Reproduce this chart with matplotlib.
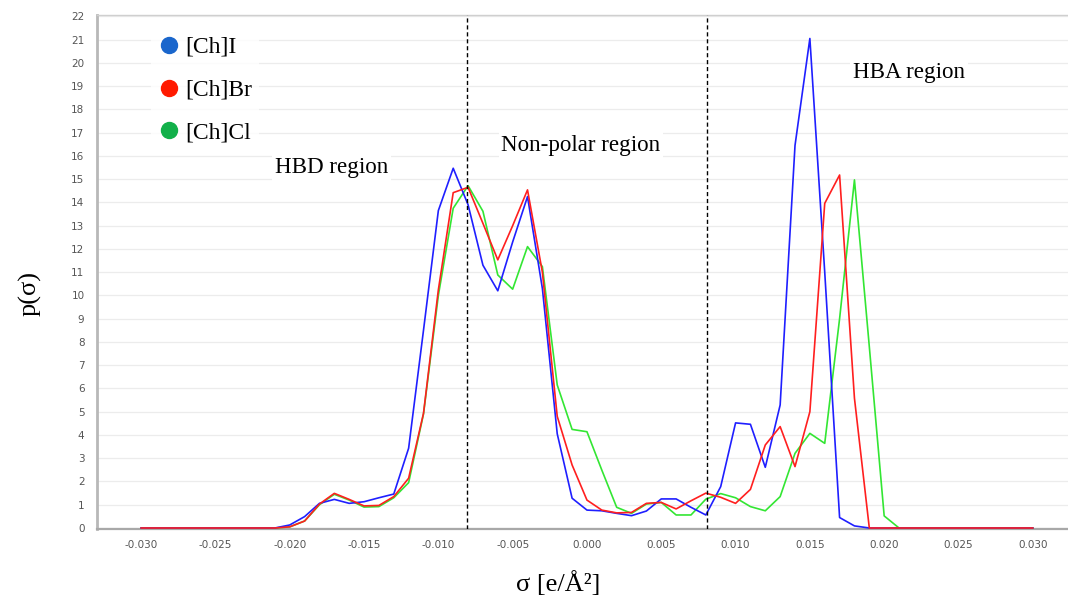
import numpy as np
import matplotlib
matplotlib.use("Agg")
import matplotlib.pyplot as plt
from matplotlib.lines import Line2D

plt.rcParams['axes.unicode_minus'] = False

# ---------------- data ----------------
sigma = np.round(np.arange(-30, 31) * 0.001, 3)

p_ChI = [0, 0, 0, 0, 0, 0, 0, 0, 0, 0,
         0.13, 0.49, 1.06, 1.23, 1.06, 1.13, 1.30, 1.46, 3.43, 8.5,
         13.65, 15.47, 13.9, 11.3, 10.2, 12.3, 14.25, 10.3, 4.05, 1.28,
         0.77, 0.74, 0.63, 0.53, 0.73, 1.25, 1.25, 0.89, 0.56, 1.78,
         4.52, 4.46, 2.61, 5.29, 16.45, 21.05, 11.0, 0.45, 0.09,
         0, 0, 0, 0, 0, 0, 0, 0, 0, 0, 0, 0]

p_ChBr = [0, 0, 0, 0, 0, 0, 0, 0, 0, 0,
          0.05, 0.30, 1.03, 1.49, 1.23, 0.95, 0.97, 1.35, 2.14, 4.93,
          10.24, 14.42, 14.65, 13.1, 11.53, 13.0, 14.54, 11.0, 4.8, 2.71,
          1.20, 0.77, 0.65, 0.67, 1.06, 1.10, 0.82, 1.17, 1.50, 1.32,
          1.06, 1.66, 3.57, 4.36, 2.64, 5.0, 13.96, 15.18, 5.58,
          0, 0, 0, 0, 0, 0, 0, 0, 0, 0, 0, 0]

p_ChCl = [0, 0, 0, 0, 0, 0, 0, 0, 0, 0,
          0.05, 0.30, 1.00, 1.45, 1.20, 0.90, 0.92, 1.30, 1.95, 4.9,
          10.0, 13.75, 14.72, 13.62, 10.88, 10.27, 12.1, 11.24, 6.15, 4.24,
          4.14, 2.49, 0.89, 0.63, 1.03, 1.10, 0.56, 0.56, 1.24, 1.48,
          1.30, 0.92, 0.74, 1.35, 3.21, 4.07, 3.64, 9.0, 14.97, 7.8,
          0.52, 0, 0, 0, 0, 0, 0, 0, 0, 0, 0]

series_labels = ["[Ch]I", "[Ch]Br", "[Ch]Cl"]
line_colors = {"[Ch]I": "#1f1fff", "[Ch]Br": "#ff1f1f", "[Ch]Cl": "#33e633"}
legend_colors = ["#1a66cc", "#ff1a00", "#12b04a"]

region_bounds = [-0.0081, 0.0081]
region_labels = ["HBD region", "Non-polar region", "HBA region"]

xticks = np.round(np.arange(-6, 7) * 0.005, 3)
yticks = np.arange(0, 23)

# ---------------- figure ----------------
W, H = 1068, 601
fig = plt.figure(figsize=(W / 100, H / 100), dpi=100)
ax = fig.add_axes([97 / W, (H - 529) / H, (W - 97) / W, (529 - 15) / H])

ax.set_xlim(-0.03297, 0.03237)
ax.set_ylim(-0.043, 22.06)

ax.yaxis.grid(True, color="#ececec", lw=0.9)
ax.set_axisbelow(True)

ax.plot(sigma, p_ChCl, color=line_colors["[Ch]Cl"], lw=1.2, zorder=3)
ax.plot(sigma, p_ChI, color=line_colors["[Ch]I"], lw=1.2, zorder=4)
ax.plot(sigma, p_ChBr, color=line_colors["[Ch]Br"], lw=1.2, zorder=5)

for b in region_bounds:
    ax.axvline(b, color="black", lw=1.0, ls=(0, (3, 2)), zorder=6)

ax.set_xticks(xticks)
ax.set_xticklabels([f"{v:.3f}" for v in xticks])
ax.set_yticks(yticks)
ax.tick_params(axis="both", length=0, labelsize=7.5, labelcolor="#555555")
ax.tick_params(axis="x", pad=8)
ax.tick_params(axis="y", pad=9)

ax.spines["right"].set_visible(False)
ax.spines["top"].set_color("#cfcfcf")
ax.spines["top"].set_linewidth(1.0)
ax.spines["left"].set_color("#b8b8b8")
ax.spines["left"].set_linewidth(2.0)
ax.spines["bottom"].set_color("#a8a8a8")
ax.spines["bottom"].set_linewidth(1.6)

serif = "Liberation Serif"
tbox = dict(facecolor="white", edgecolor="none", pad=2)
ax.text(-0.0172, 15.5, region_labels[0], family=serif, fontsize=16.6, ha="center", va="center", bbox=tbox)
ax.text(-0.0004, 16.45, region_labels[1], family=serif, fontsize=16.6, ha="center", va="center", bbox=tbox)
ax.text(0.02167, 19.6, region_labels[2], family=serif, fontsize=16.6, ha="center", va="center", bbox=tbox)

handles = [Line2D([], [], ls="", marker="o", ms=11.5, color=c, markeredgecolor=c)
           for c in legend_colors]
leg = ax.legend(handles, series_labels, loc="upper left", bbox_to_anchor=(0.043, 0.995),
                frameon=True, prop={"family": serif, "size": 17},
                handlelength=1.0, handletextpad=0.18, labelspacing=0.9, borderpad=0.3)
leg.get_frame().set_facecolor("white")
leg.get_frame().set_edgecolor("none")

fig.text(30 / W, 1 - 293 / H, "p(σ)", family=serif, fontsize=19, rotation=90, ha="center", va="center")
fig.text(558 / W, 1 - 584 / H, "σ [e/Å²]", family=serif, fontsize=19, ha="center", va="center")

fig.savefig("out.png", dpi=100, facecolor="white")
